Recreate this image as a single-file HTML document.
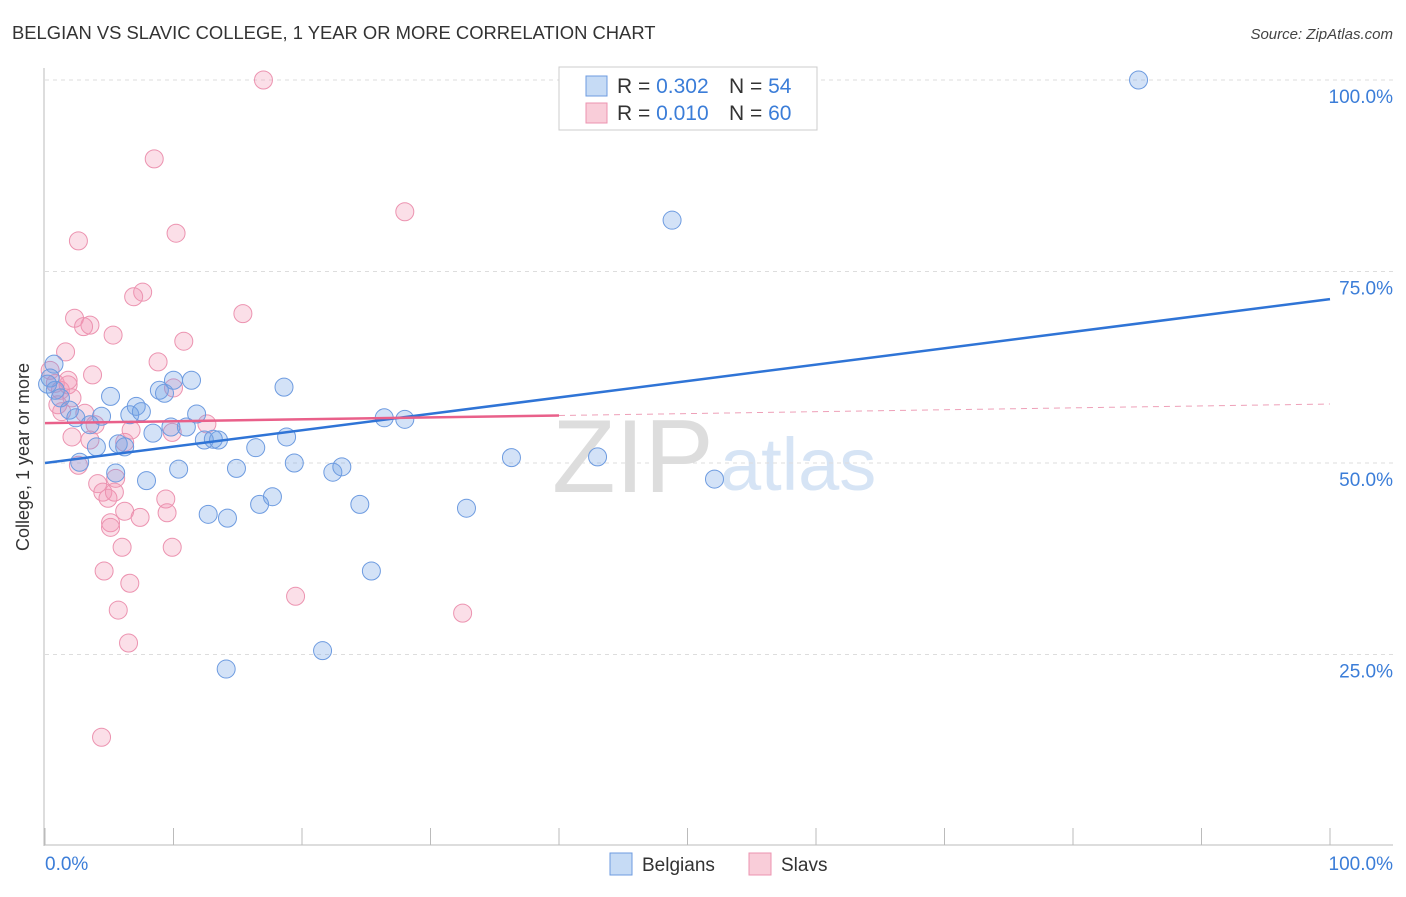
<!DOCTYPE html>
<html><head><meta charset="utf-8"><style>
body{margin:0;background:#fff;font-family:"Liberation Sans",sans-serif}
svg text{font-family:"Liberation Sans",sans-serif}
</style></head><body>
<svg width="1406" height="892">
<text x="12" y="39" font-size="18.4" fill="#333">BELGIAN VS SLAVIC COLLEGE, 1 YEAR OR MORE CORRELATION CHART</text>
<text x="1393" y="39" font-size="15" fill="#444" font-style="italic" text-anchor="end">Source: ZipAtlas.com</text>
<g>
<text x="552" y="492" font-size="104" font-family="Liberation Serif" fill="#ddd">ZIP</text>
<text x="720" y="490" font-size="74" fill="#d6e4f5">atlas</text>
</g>
<g id="grid"></g>
<line x1="44" y1="68" x2="44" y2="846" stroke="#bbb"/>
<line x1="44" y1="845" x2="1393" y2="845" stroke="#bbb"/>
<g id="ticks"></g>
<text x="29" y="457" font-size="18" fill="#333" transform="rotate(-90 29 457)" text-anchor="middle">College, 1 year or more</text>
<text x="45" y="870" font-size="19" fill="#3b7dd8">0.0%</text>
<text x="1393" y="870" font-size="19" fill="#3b7dd8" text-anchor="end">100.0%</text>
<g id="pts"></g>
<g id="lines"></g>
<g>
<rect x="559" y="67" width="258" height="63" fill="#fff" stroke="#ccc"/>
<rect x="586" y="76" width="21" height="20" fill="#c6dbf5" stroke="#6d9be0"/>
<rect x="586" y="103" width="21" height="20" fill="#f9cdd9" stroke="#ec93b0"/>
<text x="617" y="93" font-size="21" fill="#333">R = <tspan fill="#3b7dd8">0.302</tspan></text>
<text x="729" y="93" font-size="21" fill="#333">N = <tspan fill="#3b7dd8">54</tspan></text>
<text x="617" y="120" font-size="21" fill="#333">R = <tspan fill="#3b7dd8">0.010</tspan></text>
<text x="729" y="120" font-size="21" fill="#333">N = <tspan fill="#3b7dd8">60</tspan></text>
</g>
<rect x="610" y="853" width="22" height="22" fill="#c6dbf5" stroke="#6d9be0"/>
<text x="642" y="871" font-size="19" fill="#333">Belgians</text>
<rect x="749" y="853" width="22" height="22" fill="#f9cdd9" stroke="#ec93b0"/>
<text x="781" y="871" font-size="19" fill="#333">Slavs</text>
</svg>
<script>
const yTicks=[25,50,75,100];
const yTickLabels=["25.0%","50.0%","75.0%","100.0%"];
const xTicks=[0,10,20,30,40,50,60,70,80,90,100];
const belgX=[85.1,48.8,0.7,0.4,0.8,1.2,1.9,2.4,3.5,4.4,5.1,4.0,2.7,5.7,6.2,6.6,7.1,7.5,7.9,5.5,8.4,8.9,9.3,10.0,11.4,9.8,11.0,11.8,10.4,12.4,13.1,13.5,12.7,14.2,14.9,16.4,18.6,18.8,19.4,16.7,17.7,22.4,23.1,24.5,25.4,26.4,28.0,32.8,36.3,43.0,52.1,14.1,21.6,0.2];
const belgY=[100,81.7,62.9,61.1,59.5,58.5,56.9,55.9,55.0,56.1,58.7,52.1,50.1,52.5,52.1,56.3,57.4,56.7,47.7,48.7,53.9,59.5,59.1,60.8,60.8,54.7,54.7,56.4,49.2,53.0,53.1,53.0,43.3,42.8,49.3,52.0,59.9,53.4,50.0,44.6,45.6,48.8,49.5,44.6,35.9,55.9,55.7,44.1,50.7,50.8,47.9,23.1,25.5,60.3];
const slavX=[17.0,8.5,28.0,2.6,10.2,7.6,6.9,2.3,3.5,3.0,5.3,15.4,10.8,1.6,8.8,3.7,10.0,0.4,0.8,1.2,1.8,2.1,1.0,1.3,3.1,3.9,12.6,9.9,6.7,2.1,3.5,6.2,2.6,4.1,5.5,4.5,4.9,5.4,9.4,6.2,7.4,9.5,5.1,5.1,6.0,9.9,4.6,6.6,5.7,19.5,32.5,6.5,4.4,1.8];
const slavY=[100,89.7,82.8,79.0,80.0,72.3,71.7,68.9,68.0,67.8,66.7,69.5,65.9,64.5,63.2,61.5,59.8,62.1,60.4,59.5,60.2,58.5,57.6,56.7,56.5,55.0,55.1,54.0,54.3,53.4,53.0,52.7,49.7,47.3,48.0,46.2,45.4,46.2,45.3,43.7,42.9,43.5,42.2,41.6,39.0,39.0,35.9,34.3,30.8,32.6,30.4,26.5,14.2,60.8];
const belgTrend=[50.0,71.4];
const slavTrend=[55.2,57.7];
const slavSolidEnd=40;
const NS="http://www.w3.org/2000/svg";
const sx=v=>45+v*12.85, sy=v=>846-v*7.66;
function mk(t,a,p){const e=document.createElementNS(NS,t);for(const k in a)e.setAttribute(k,a[k]);p.appendChild(e);return e;}
const grid=document.getElementById('grid');
yTicks.forEach((t,i)=>{
 const l=mk('line',{x1:45,x2:1393,y1:sy(t),y2:sy(t),stroke:'#ddd','stroke-dasharray':'4,4'},grid);
 
 
 const tx=mk('text',{x:1393,y:sy(t)+23,'font-size':19,fill:'#3b7dd8','text-anchor':'end'},grid);
 tx.textContent=yTickLabels[i];
 
 
});
const tk=document.getElementById('ticks');
xTicks.forEach(t=>{
 const l=mk('line',{x1:sx(t),x2:sx(t),y1:828,y2:845,stroke:'#bbb'},tk);
 
 
});
const pts=document.getElementById('pts');
slavX.forEach((x,i)=>{
 const c=mk('circle',{cx:sx(x),cy:sy(slavY[i]),r:9,fill:'rgba(242,150,180,0.3)',stroke:'#ec93b0','stroke-width':1},pts);
 
 
});
belgX.forEach((x,i)=>{
 const c=mk('circle',{cx:sx(x),cy:sy(belgY[i]),r:9,fill:'rgba(110,160,230,0.3)',stroke:'#6d9be0','stroke-width':1},pts);
 
 
});
const lg=document.getElementById('lines');
const ps=v=>slavTrend[0]+(slavTrend[1]-slavTrend[0])*v/100;
let l1=mk('line',{x1:sx(0),y1:sy(belgTrend[0]),x2:sx(100),y2:sy(belgTrend[1]),stroke:'#2f74d6','stroke-width':2.5},lg);


let l2=mk('line',{x1:sx(0),y1:sy(ps(0)),x2:sx(slavSolidEnd),y2:sy(ps(slavSolidEnd)),stroke:'#e9608a','stroke-width':2.5},lg);


let l3=mk('line',{x1:sx(slavSolidEnd),y1:sy(ps(slavSolidEnd)),x2:sx(100),y2:sy(ps(100)),stroke:'#eea0b8','stroke-width':1,'stroke-dasharray':'6,5'},lg);


</script>
</body></html>
